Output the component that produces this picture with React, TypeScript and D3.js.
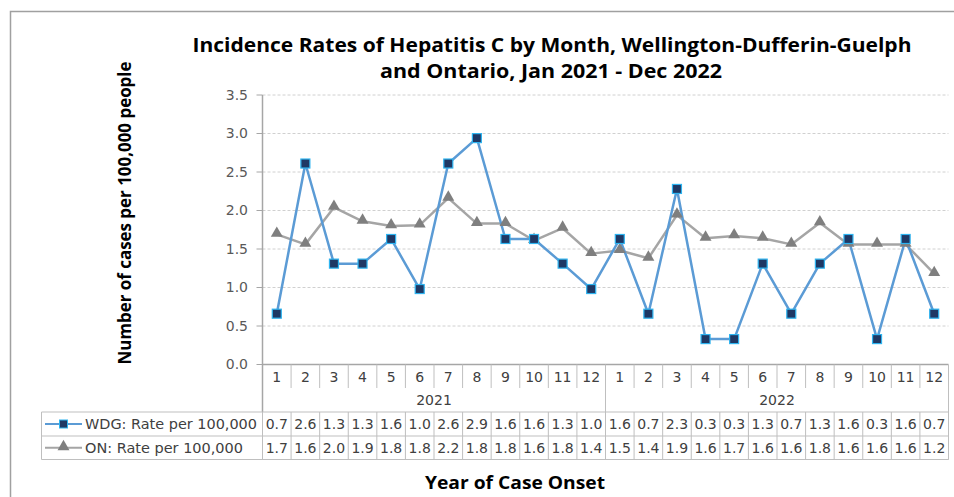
import React from "react";
import * as d3 from "d3";

const years = ["2021", "2022"];
const months = ["1","2","3","4","5","6","7","8","9","10","11","12"];
const wdgRate = [0.66, 2.61, 1.31, 1.31, 1.63, 0.98, 2.61, 2.94, 1.63, 1.63, 1.31, 0.98,
                 1.63, 0.66, 2.28, 0.33, 0.33, 1.31, 0.66, 1.31, 1.63, 0.33, 1.63, 0.66];
const onRate = [1.69, 1.56, 2.04, 1.86, 1.80, 1.81, 2.16, 1.83, 1.83, 1.61, 1.77, 1.44,
                1.48, 1.38, 1.94, 1.64, 1.67, 1.64, 1.56, 1.84, 1.56, 1.56, 1.56, 1.18];
const yTicks = [0, 0.5, 1.0, 1.5, 2.0, 2.5, 3.0, 3.5];
const seriesNames = ["WDG: Rate per 100,000", "ON: Rate per 100,000"];
const titleLines = ["Incidence Rates of Hepatitis C by Month, Wellington-Dufferin-Guelph", "and Ontario, Jan 2021 - Dec 2022"];
const yTitle = "Number of cases per 100,000 people";
const xTitle = "Year of Case Onset";

export default function App() {
  const W = 954, H = 497;
  const left = 262.5, right = 948.5, top = 95, bottom = 364.5;
  const tableLeft = 41.5;
  const rowHeader = 388, rowYear = 412, rowA = 436, rowB = 459.5;
  const n = years.length * months.length;
  const cats = d3.range(n);
  const x = d3.scaleBand<number>().domain(cats).range([left, right]).padding(0);
  const cx = (i: number) => (x(i) as number) + x.bandwidth() / 2;
  const y = d3.scaleLinear().domain([0, 3.5]).range([bottom, top]);
  const fmt = d3.format(".1f");
  const line = d3.line<number>().x((_, i) => cx(i)).y((d) => y(d));
  const tri = d3.symbol().type(d3.symbolTriangle).size(62)();
  const font = "'DejaVu Sans', Verdana, sans-serif";
  const titleFont = "'Open Sans', 'Liberation Sans', sans-serif";
  const gridColor = "#D0D0D0";
  const tableColor = "#BFBFBF";
  const axisColor = "#A6A6A6";
  const textColor = "#404040";
  const blue = "#5B9BD5";
  const navy = "#1F3864";
  const cyan = "#2EB4F0";
  const gray = "#A5A5A5";
  const triFill = "#7F7F7F";

  const boundaries = d3.range(n + 1).map((i) => left + i * x.bandwidth());

  return (
    <svg width={W} height={H} style={{ position: "absolute", left: 0, top: 0, background: "#fff" }}>
      <rect x={10.5} y={11.5} width={960} height={500} fill="#fff" stroke="#A0A0A0" strokeWidth={1.5} />
      {/* Title */}
      <text x={552} y={52} textAnchor="middle" fontFamily={titleFont} fontWeight={700} fontSize={20}
        fill="#000" textLength={719} lengthAdjust="spacingAndGlyphs">{titleLines[0]}</text>
      <text x={551} y={78} textAnchor="middle" fontFamily={titleFont} fontWeight={700} fontSize={20}
        fill="#000" textLength={342} lengthAdjust="spacingAndGlyphs">{titleLines[1]}</text>
      {/* Y title */}
      <text transform="translate(131,213) rotate(-90)" textAnchor="middle" fontFamily={titleFont}
        fontWeight={700} fontSize={18} fill="#000" textLength={303} lengthAdjust="spacingAndGlyphs">{yTitle}</text>
      {/* Gridlines */}
      {yTicks.filter((t) => t > 0).map((t) => (
        <line key={"g" + t} x1={left} x2={right} y1={y(t)} y2={y(t)} stroke={gridColor} strokeDasharray="3,2" strokeWidth={1} />
      ))}
      {/* Y ticks */}
      {yTicks.map((t) => (
        <g key={"t" + t}>
          <line x1={256.5} x2={left} y1={y(t)} y2={y(t)} stroke={axisColor} strokeWidth={1} />
          <text x={248} y={y(t)} dy="0.35em" textAnchor="end" fontFamily={font} fontSize={14} fill="#595959">{fmt(t)}</text>
        </g>
      ))}
      {/* Y axis line */}
      <line x1={left} x2={left} y1={top} y2={rowYear} stroke={axisColor} strokeWidth={1.5} />
      {/* X axis line */}
      <line x1={left} x2={right} y1={bottom} y2={bottom} stroke={axisColor} strokeWidth={1.5} />
      {/* Header month ticks */}
      {boundaries.slice(1, n).map((b, i) => (
        <line key={"mt" + i} x1={b} x2={b} y1={bottom} y2={(i + 1) % 12 === 0 ? rowYear : rowHeader} stroke={tableColor} strokeWidth={1} />
      ))}
      <line x1={right} x2={right} y1={bottom} y2={rowB} stroke={tableColor} strokeWidth={1} />
      {/* Month labels */}
      {cats.map((i) => (
        <text key={"m" + i} x={cx(i)} y={377} dy="0.35em" textAnchor="middle" fontFamily={font} fontSize={14} fill={textColor}>{months[i % 12]}</text>
      ))}
      {years.map((yr, k) => (
        <text key={yr} x={(boundaries[k * 12] + boundaries[k * 12 + 12]) / 2} y={400} dy="0.35em" textAnchor="middle" fontFamily={font} fontSize={14} fill={textColor}>{yr}</text>
      ))}
      {/* Table rows */}
      {[rowYear, rowA, rowB].map((ry) => (
        <line key={"r" + ry} x1={tableLeft} x2={right} y1={ry} y2={ry} stroke={tableColor} strokeWidth={1} />
      ))}
      <line x1={tableLeft} x2={tableLeft} y1={rowYear} y2={rowB} stroke={tableColor} strokeWidth={1} />
      {boundaries.map((b, i) => (
        <line key={"cb" + i} x1={b} x2={b} y1={rowYear} y2={rowB} stroke={tableColor} strokeWidth={1} />
      ))}
      {/* Table values */}
      {wdgRate.map((v, i) => (
        <text key={"wv" + i} x={cx(i)} y={(rowYear + rowA) / 2} dy="0.35em" textAnchor="middle" fontFamily={font} fontSize={14} fill={textColor}>{fmt(v)}</text>
      ))}
      {onRate.map((v, i) => (
        <text key={"ov" + i} x={cx(i)} y={(rowA + rowB) / 2} dy="0.35em" textAnchor="middle" fontFamily={font} fontSize={14} fill={textColor}>{fmt(v)}</text>
      ))}
      {/* Legend keys */}
      <line x1={45} x2={82} y1={(rowYear + rowA) / 2} y2={(rowYear + rowA) / 2} stroke={blue} strokeWidth={2} />
      <rect x={59.5} y={(rowYear + rowA) / 2 - 4} width={8} height={8} fill={navy} stroke={cyan} strokeWidth={1} />
      <text x={85} y={(rowYear + rowA) / 2} dy="0.35em" fontFamily={font} fontSize={14} fill={textColor} textLength={172} lengthAdjust="spacingAndGlyphs">{seriesNames[0]}</text>
      <line x1={45} x2={82} y1={(rowA + rowB) / 2} y2={(rowA + rowB) / 2} stroke={gray} strokeWidth={2} />
      <path d={tri as string} transform={`translate(63.5,${(rowA + rowB) / 2 - 1})`} fill={triFill} />
      <text x={85} y={(rowA + rowB) / 2} dy="0.35em" fontFamily={font} fontSize={14} fill={textColor} textLength={158} lengthAdjust="spacingAndGlyphs">{seriesNames[1]}</text>
      {/* Lines */}
      <path d={line(onRate) as string} fill="none" stroke={gray} strokeWidth={2.5} strokeLinejoin="round" />
      <path d={line(wdgRate) as string} fill="none" stroke={blue} strokeWidth={2.5} strokeLinejoin="round" />
      {onRate.map((v, i) => (
        <path key={"tri" + i} d={tri as string} transform={`translate(${cx(i)},${y(v) - 1})`} fill={triFill} />
      ))}
      {wdgRate.map((v, i) => (
        <rect key={"sq" + i} x={cx(i) - 4.5} y={y(v) - 4.5} width={9} height={9} fill={navy} stroke={cyan} strokeWidth={1.2} />
      ))}
      {/* X title */}
      <text x={515} y={489} textAnchor="middle" fontFamily={titleFont} fontWeight={700} fontSize={18} fill="#000" textLength={180} lengthAdjust="spacingAndGlyphs">{xTitle}</text>
    </svg>
  );
}
